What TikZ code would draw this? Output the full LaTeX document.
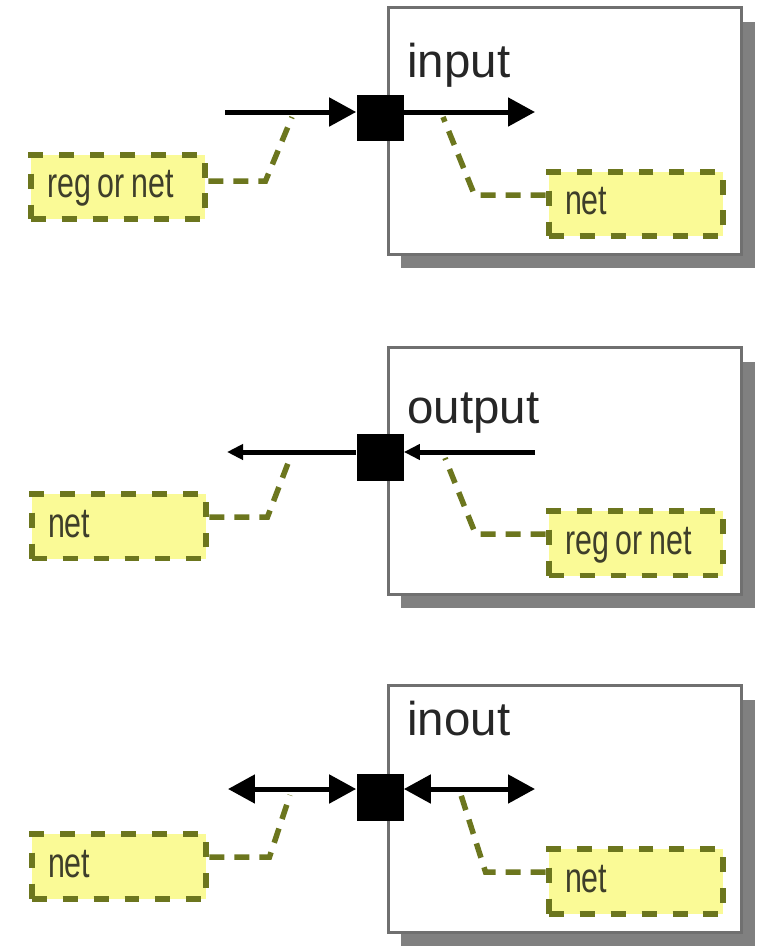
\documentclass[tikz,border=0pt]{standalone}
\usepackage{fontspec}
\setmainfont{Liberation Sans}
\newfontfamily\netfont[FakeStretch=0.72]{Liberation Sans}
\usetikzlibrary{arrows.meta,shadows}
\definecolor{netfill}{RGB}{250,250,150}
\definecolor{netline}{RGB}{108,118,30}
\definecolor{nettext}{RGB}{62,62,42}
\definecolor{modline}{RGB}{112,112,112}
\definecolor{modshadow}{RGB}{128,128,128}

\begin{document}
\begin{tikzpicture}[
  x=0.02cm, y=-0.02cm,
  module/.style={draw=modline, line width=0.06cm, fill=white, minimum width=7.08cm, minimum height=4.94cm,
    general shadow={fill=modshadow, shadow xshift=0.26cm, shadow yshift=-0.28cm}},
  title/.style={anchor=base west, inner sep=0, font=\fontsize{27}{32}\selectfont, text=black!85},
  port/.style={fill=black, minimum size=0.94cm, inner sep=0},
  netbox/.style={draw=netline, fill=netfill, line width=0.12cm, dash pattern=on 0.3cm off 0.32cm,
    text width=2.84cm, inner xsep=0.33cm, minimum height=1.3cm, text height=0.5cm, text depth=0.06cm,
    align=left, font=\netfont\fontsize{24}{28}\selectfont, text=nettext},
  link/.style={draw=netline, line width=0.11cm, dash pattern=on 0.3cm off 0.2cm},
  sig/.style={line width=0.1cm},
  >={Triangle[length=0.54cm, width=0.56cm]}
]
  \useasboundingbox (0,0) rectangle (758,950);

  % input
  \node[module] (inmod) at (565,131) {};
  \node[title] (inname) at (407,77) {input};
  \node[netbox] (inext) at (118,187) {reg\,or\,net};
  \node[netbox] (inint) at (636,204) {net};
  \coordinate (inL) at (225,112);
  \coordinate (inR) at (535,112);
  \coordinate (intapL) at (292,117);
  \coordinate (intapR) at (443,117);
  \draw[link] ([yshift=0.12cm]inext.east) -- ++(57,0) -- (intapL);
  \draw[link] ([yshift=0.18cm]inint.west) -- ++(-71,0) -- (intapR);
  \node[port] (inport) at (380,118) {};
  \draw[sig, ->] (inL) -- (inL -| inport.west);
  \draw[sig, ->] (inR -| inport.east) -- (inR);

  % output
  \node[module] (outmod) at (565,471) {};
  \node[title] (outname) at (407,423) {output};
  \node[netbox] (outext) at (119,526) {net};
  \node[netbox] (outint) at (636,543) {reg\,or\,net};
  \coordinate (outL) at (227,452);
  \coordinate (outR) at (535,452);
  \coordinate (outtapL) at (290,458);
  \coordinate (outtapR) at (445,458);
  \draw[link] ([yshift=0.18cm]outext.east) -- ++(58,0) -- (outtapL);
  \draw[link] ([yshift=0.18cm]outint.west) -- ++(-70,0) -- (outtapR);
  \node[port] (outport) at (380,457) {};
  \begin{scope}[>={Triangle[length=0.32cm, width=0.3cm]}]
    \draw[sig, ->] (outL -| outport.west) -- (outL);
    \draw[sig, ->] (outR) -- (outR -| outport.east);
  \end{scope}

  % inout
  \node[module] (iomod) at (565,809) {};
  \node[title] (ioname) at (407,735) {inout};
  \node[netbox] (ioext) at (119,866) {net};
  \node[netbox] (ioint) at (636,881) {net};
  \coordinate (ioL) at (228,789);
  \coordinate (ioR) at (535,789);
  \coordinate (iotapL) at (290,795);
  \coordinate (iotapR) at (461,795);
  \draw[link] ([yshift=0.18cm]ioext.east) -- ++(60,0) -- (iotapL);
  \draw[link] ([yshift=0.18cm]ioint.west) -- ++(-60,0) -- (iotapR);
  \node[port] (ioport) at (380,797) {};
  \draw[sig, <->] (ioL) -- (ioL -| ioport.west);
  \draw[sig, <->] (ioR -| ioport.east) -- (ioR);
\end{tikzpicture}
\end{document}
